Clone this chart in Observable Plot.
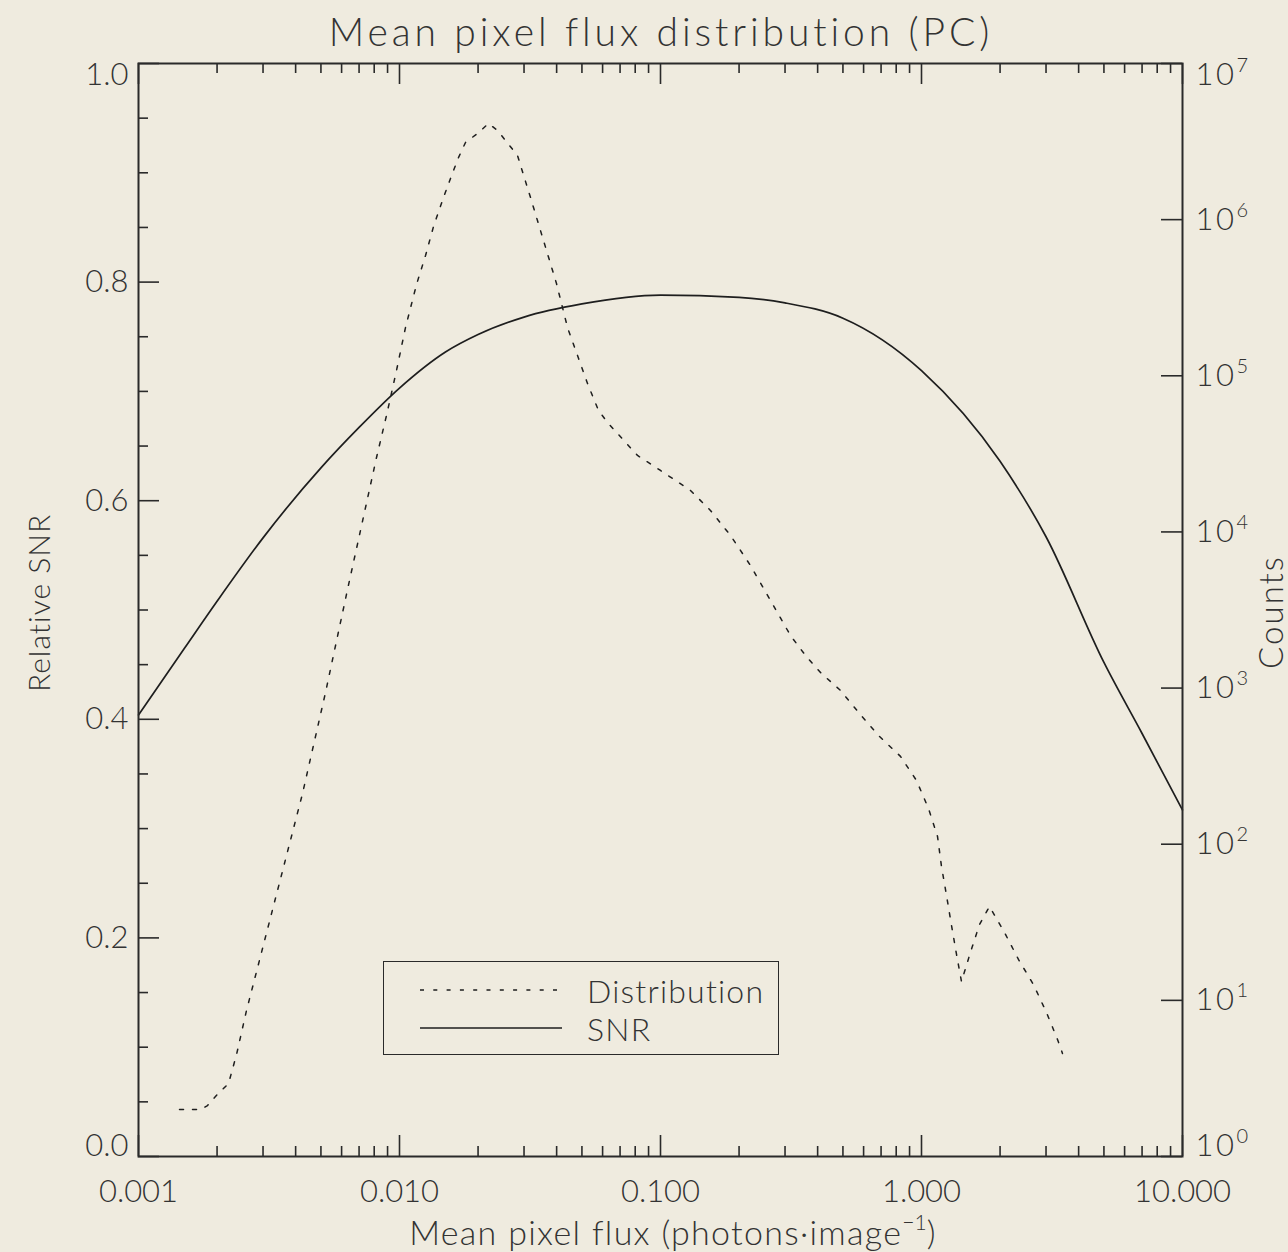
<!DOCTYPE html>
<html><head><meta charset="utf-8">
<script src="https://cdn.jsdelivr.net/npm/d3@7"></script>
<script src="https://cdn.jsdelivr.net/npm/@observablehq/plot@0.6"></script>
<style>
html,body{margin:0;padding:0;background:#efebdf;}
#wrap{position:relative;width:1288px;height:1252px;overflow:hidden;font-family:Lato,sans-serif;font-weight:300;color:#333;background:#efebdf;}
#wrap svg{position:absolute;left:0;top:50px;}
.t{position:absolute;white-space:nowrap;line-height:1;}
</style></head><body><div id="wrap"></div>
<script>
// ---- data ----
const snrFlux  = [0.001, 0.0015, 0.002, 0.003, 0.005, 0.007, 0.01, 0.015, 0.02, 0.03, 0.05, 0.1, 0.2, 0.3, 0.5, 1, 2, 3, 5, 7, 10];
const snrValue = [0.404, 0.465, 0.508, 0.566, 0.630, 0.667, 0.703, 0.736, 0.752, 0.768, 0.780, 0.788, 0.786, 0.781, 0.767, 0.719, 0.636, 0.567, 0.452, 0.387, 0.317];

const distFlux = [0.001436, 0.001728, 0.001838, 0.002007, 0.002212, 0.002375, 0.002593, 0.004250, 0.005206, 0.006322,
  0.008164, 0.008916, 0.009739, 0.010544, 0.011620, 0.012583, 0.013500, 0.014745, 0.016103, 0.016834,
  0.017900, 0.019900, 0.021930, 0.023740, 0.02832, 0.031760, 0.035620, 0.039950, 0.04402, 0.048100,
  0.05253, 0.057870, 0.062660, 0.068420, 0.081650, 0.1, 0.1303, 0.1554, 0.1855, 0.2212,
  0.2639, 0.3148, 0.3594, 0.4103, 0.4895, 0.5788, 0.6843, 0.8308, 0.9568, 1.064,
  1.152, 1.193, 1.247, 1.303, 1.362, 1.423, 1.540, 1.668, 1.822, 2.080,
  2.352, 2.686, 3.012, 3.320, 3.469];
const distCounts = [2.0, 2.0, 2.12, 2.5, 2.93, 4.5, 8.61, 211, 937, 4280,
  29970, 55680, 108100, 203900, 384300, 589500, 904000, 1387000, 2065000, 2501000,
  3120000, 3563000, 4130000, 3724000, 2576000, 1387000, 735400, 390000, 203900, 134900,
  89280, 59950, 50230, 42710, 30870, 24750, 18430, 13720, 9490, 6098,
  3638, 2171, 1617, 1258, 965, 687, 497, 365, 256, 169,
  112, 72.0, 46.9, 30.2, 19.7, 13.2, 20.3, 30.6, 39.9, 27.2,
  18.3, 12.6, 8.36, 5.61, 4.57];

const xMajor = [0.001, 0.01, 0.1, 1, 10];
const xTickLabels = ["0.001", "0.010", "0.100", "1.000", "10.000"];
const yLeftMajor = [0, 0.2, 0.4, 0.6, 0.8, 1.0];
const yLeftMinor = [0.05,0.1,0.15,0.25,0.3,0.35,0.45,0.5,0.55,0.65,0.7,0.75,0.85,0.9,0.95];
const yRightMajor = [1, 10, 100, 1e3, 1e4, 1e5, 1e6, 1e7];
const xMinor = [];
for (const dec of [0.001, 0.01, 0.1, 1]) for (let m = 2; m <= 9; m++) xMinor.push(+(m * dec).toPrecision(3));

const snrData = snrFlux.map((f, i) => ({flux: f, snr: snrValue[i]}));
const distData = distFlux.map((f, i) => ({flux: f, counts: distCounts[i]}));

// ---- layout ----
const W = 1288, H = 1202, mL = 138, mR = 106, mT = 13, mB = 96;
const iW = W - mL - mR, iH = H - mT - mB;
const INK = "#2a2a2a", TXT = "#333";
const FS = 31, LS = 3.2;
const common = {
  width: W, height: H, marginLeft: mL, marginRight: mR, marginTop: mT, marginBottom: mB,
  style: {background: "transparent", fontFamily: "Lato, sans-serif", fontWeight: 300, fontSize: FS + "px", color: TXT, overflow: "visible"}
};
const xLabel = d => xTickLabels[xMajor.indexOf(d)];
const f1 = d => d.toFixed(1);

const p1 = Plot.plot({
  ...common,
  x: {type: "log", domain: [0.001, 10], label: null},
  y: {domain: [0, 1], label: null},
  marks: [
    Plot.tickY(yLeftMajor, {y: d => d, insetRight: iW - 21, stroke: INK, strokeWidth: 1.6}),
    Plot.tickY(yLeftMinor, {y: d => d, insetRight: iW - 10, stroke: INK, strokeWidth: 1.6}),
    Plot.tickX(xMajor, {x: d => d, insetTop: iH - 21, stroke: INK, strokeWidth: 1.6}),
    Plot.tickX(xMinor, {x: d => d, insetTop: iH - 10, stroke: INK, strokeWidth: 1.6}),
    Plot.tickX(xMajor, {x: d => d, insetBottom: iH - 21, stroke: INK, strokeWidth: 1.6}),
    Plot.tickX(xMinor, {x: d => d, insetBottom: iH - 10, stroke: INK, strokeWidth: 1.6}),
    Plot.axisY([0.2, 0.4, 0.6, 0.8], {anchor: "left", tickSize: 0, tickPadding: 10, tickFormat: f1, label: null, fontSize: FS, letterSpacing: LS}),
    Plot.axisY([1.0], {anchor: "left", tickSize: 0, tickPadding: 10, tickFormat: f1, label: null, fontSize: FS, dy: 12, letterSpacing: LS}),
    Plot.axisY([0.0], {anchor: "left", tickSize: 0, tickPadding: 10, tickFormat: f1, label: null, fontSize: FS, dy: -10, letterSpacing: LS}),
    Plot.axisX(xMajor, {anchor: "bottom", tickSize: 0, tickPadding: 23, tickFormat: xLabel, label: null, fontSize: FS, letterSpacing: LS, dx: 0}),
    Plot.line(snrData, {x: "flux", y: "snr", curve: "monotone-x", stroke: "#1e1e1e", strokeWidth: 1.7}),
    Plot.frame({stroke: INK, strokeWidth: 2})
  ]
});

const expFmt = d => "e" + Math.round(Math.log10(d));
const p2 = Plot.plot({
  ...common,
  x: {type: "log", domain: [0.001, 10], axis: null},
  y: {type: "log", domain: [1, 1e7], label: null},
  marks: [
    Plot.tickY(yRightMajor, {y: d => d, insetLeft: iW - 21, stroke: INK, strokeWidth: 1.6}),
    Plot.axisY(yRightMajor.slice(1, -1), {anchor: "right", tickSize: 0, tickPadding: 13, tickFormat: expFmt, label: null, fontSize: FS}),
    Plot.axisY([1e7], {anchor: "right", tickSize: 0, tickPadding: 13, tickFormat: expFmt, label: null, fontSize: FS, dy: 12}),
    Plot.axisY([1], {anchor: "right", tickSize: 0, tickPadding: 13, tickFormat: expFmt, label: null, fontSize: FS, dy: -10}),
    Plot.line(distData, {x: "flux", y: "counts", stroke: "#1e1e1e", strokeWidth: 1.5, strokeDasharray: "4,9"})
  ]
});

// superscript exponents on the right axis
d3.select(p2).selectAll("text").each(function() {
  const t = this.textContent;
  if (t.startsWith("e")) {
    const sel = d3.select(this);
    sel.text("10").attr("letter-spacing", 2.5);
    sel.append("tspan").attr("dy", -13).attr("font-size", 20).attr("letter-spacing", 0).text(t.slice(1));
  }
});

const wrap = document.getElementById("wrap");
wrap.appendChild(p1);
wrap.appendChild(p2);

function addText(html, css) {
  const d = document.createElement("div");
  d.className = "t";
  d.innerHTML = html;
  Object.assign(d.style, css);
  wrap.appendChild(d);
  return d;
}
// title
addText("Mean pixel flux distribution (PC)", {left: "661px", top: "12px", transform: "translateX(-50%)", fontSize: "39px", letterSpacing: "3.9px"});
// x label
addText("Mean pixel flux (photons&middot;image<sup style='font-size:0.62em;vertical-align:0.7em;letter-spacing:0'>&minus;1</sup>)", {left: "673px", top: "1211px", transform: "translateX(-50%)", fontSize: "34px", letterSpacing: "1.3px"});
// y labels
addText("Relative SNR", {left: "38px", top: "603px", transform: "translate(-50%,-50%) rotate(-90deg)", fontSize: "30px", letterSpacing: "1px"});
addText("Counts", {left: "1270px", top: "612px", transform: "translate(-50%,-50%) rotate(-90deg)", fontSize: "33px", letterSpacing: "2px"});

// legend
const leg = document.createElement("div");
Object.assign(leg.style, {position: "absolute", left: "383px", top: "961px", width: "396px", height: "94px", border: "1.6px solid " + INK, boxSizing: "border-box"});
leg.innerHTML = `
<svg width="396" height="94" style="position:absolute;left:0;top:0;overflow:visible">
  <line x1="36" x2="178" y1="28" y2="28" stroke="#1e1e1e" stroke-width="1.5" stroke-dasharray="4,9.3"/>
  <line x1="36" x2="178" y1="66" y2="66" stroke="#1e1e1e" stroke-width="1.7"/>
</svg>
<div class="t" style="left:203px;top:13px;font-size:32px;letter-spacing:1.2px">Distribution</div>
<div class="t" style="left:203px;top:51px;font-size:32px;letter-spacing:1.2px">SNR</div>`;
wrap.appendChild(leg);
</script></body></html>
